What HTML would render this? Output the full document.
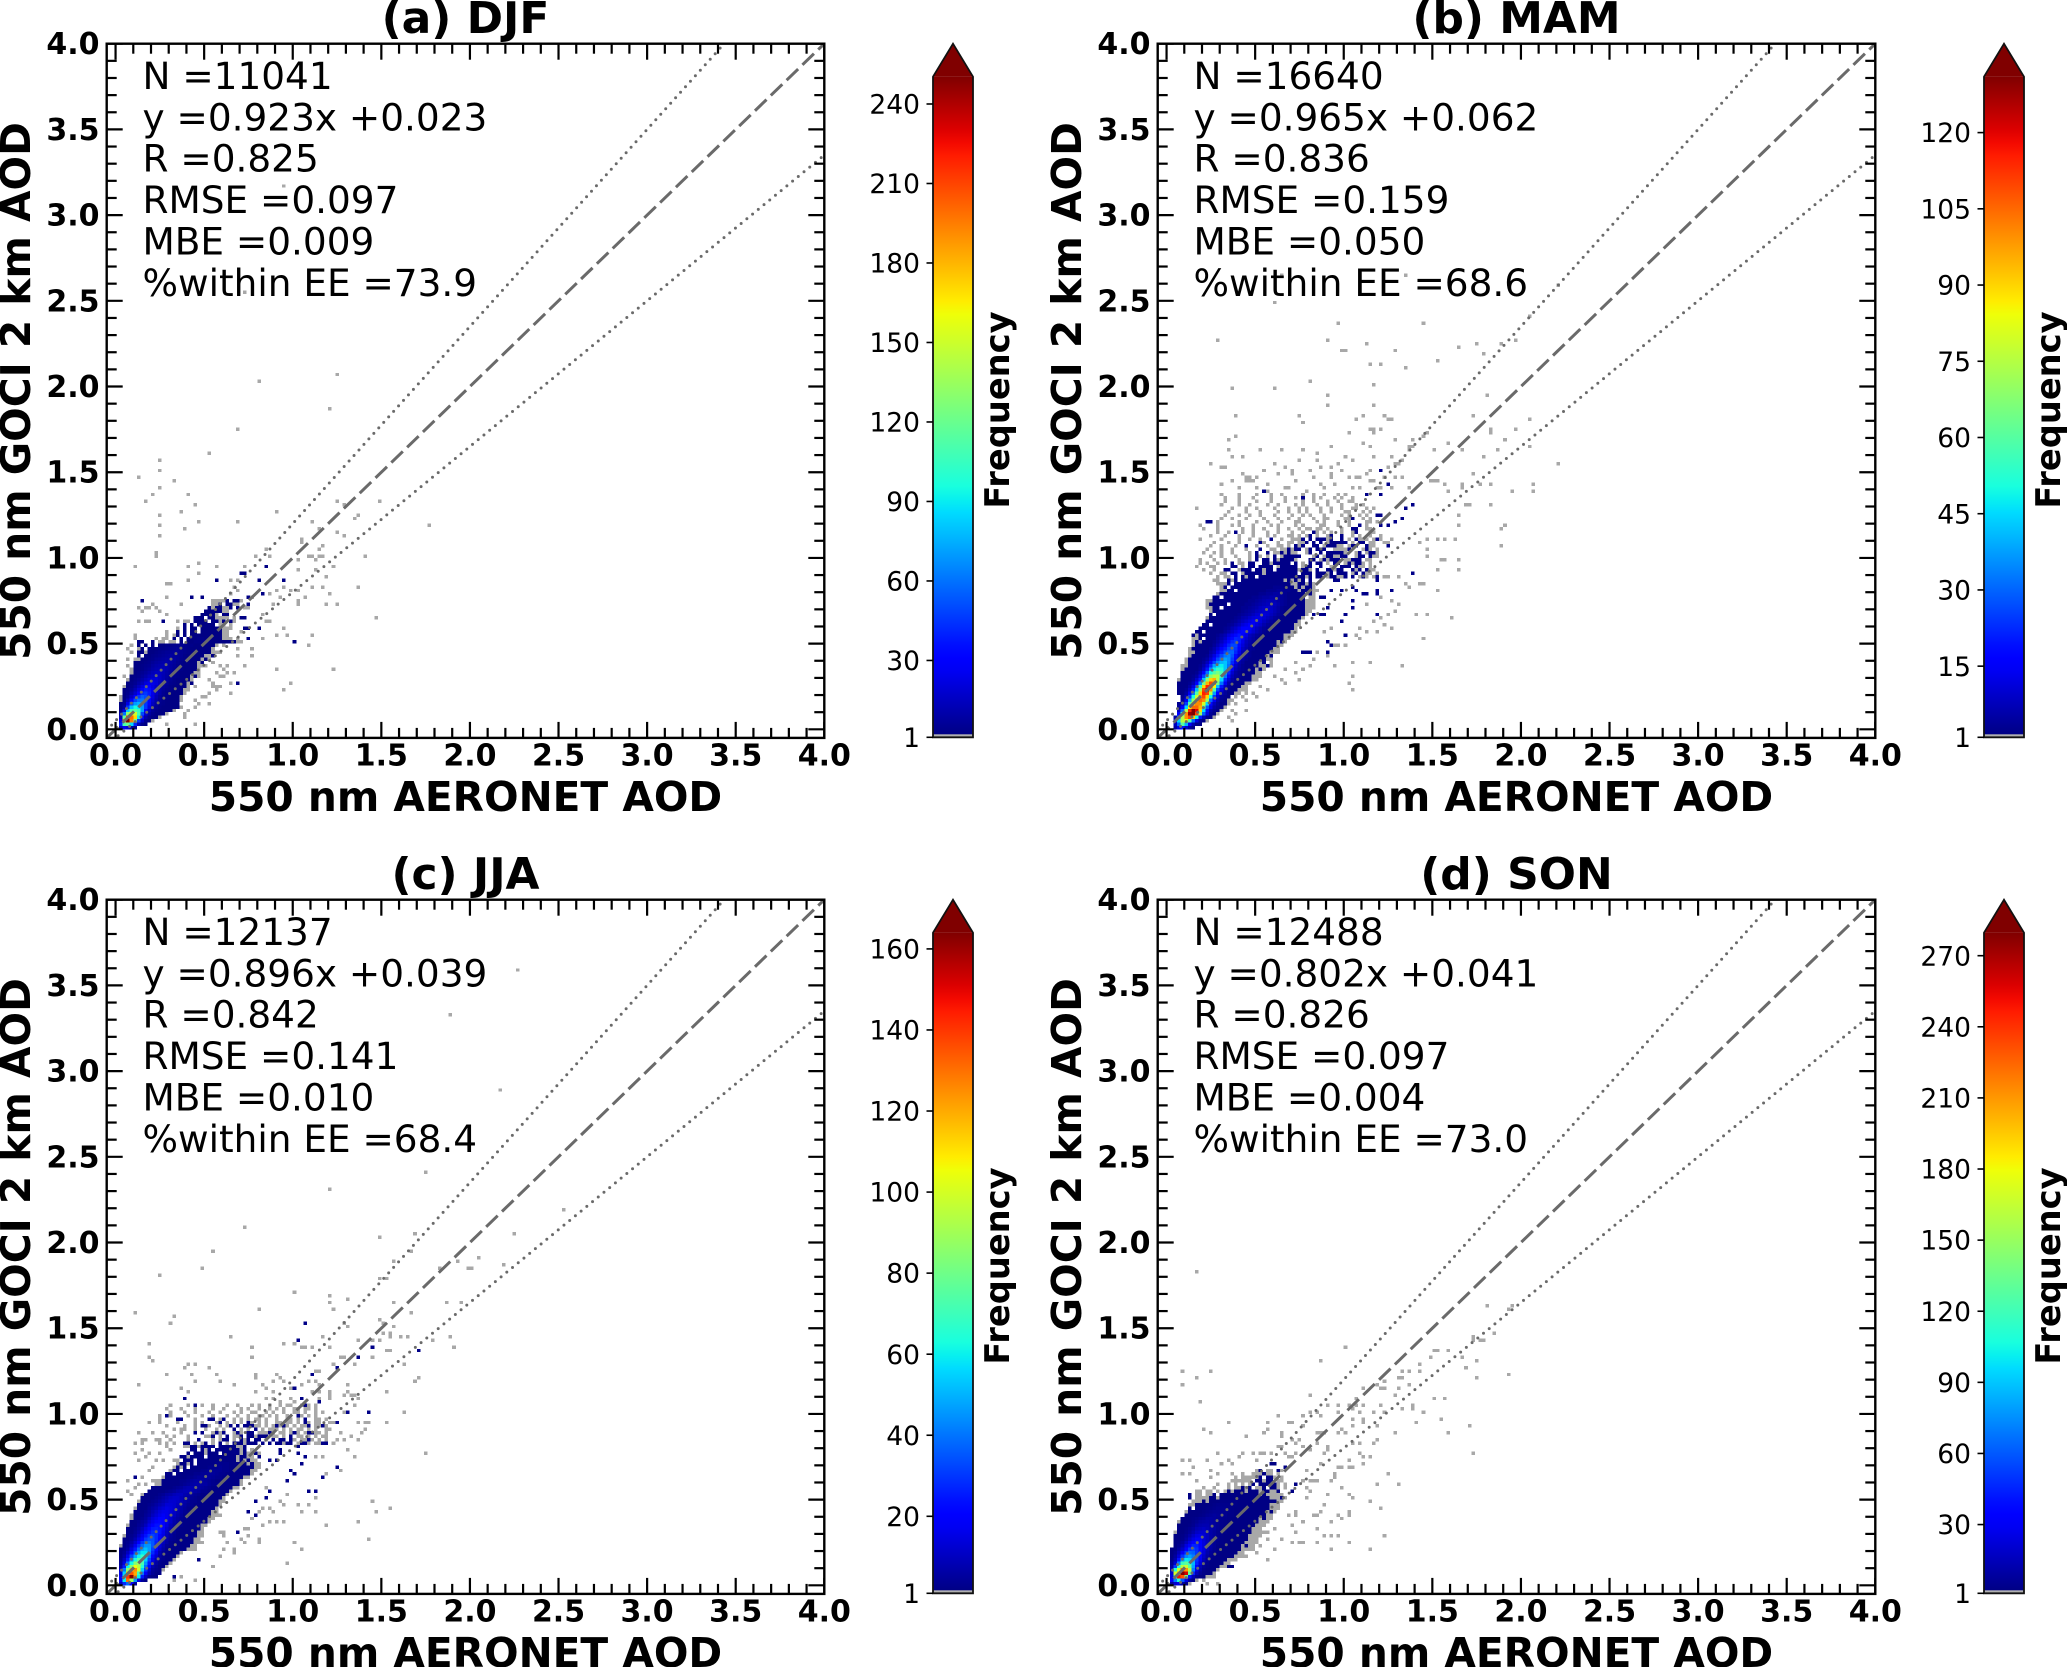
<!DOCTYPE html>
<html lang="en">
<head>
<meta charset="utf-8">
<title>GOCI 2 km AOD versus AERONET AOD by season</title>
<style>
html,body{margin:0;padding:0;background:#fff;}
svg{display:block;}
text{font-family:"DejaVu Sans","Liberation Sans",sans-serif;fill:#000;}
.title{font-size:43.9px;font-weight:700;text-anchor:middle;}
.axis-title{font-size:40.7px;font-weight:700;text-anchor:middle;}
.tick-label{font-size:30px;font-weight:700;}
.stat{font-size:37.4px;}
.cbar-label{font-size:26.5px;text-anchor:end;}
.cbar-title{font-size:33.7px;font-weight:700;text-anchor:middle;}
</style>
</head>
<body>
<svg id="figure" xmlns="http://www.w3.org/2000/svg" width="2067" height="1667" viewBox="0 0 2067 1667">
<rect width="2067" height="1667" fill="#fff"/>
<g id="panel-djf" transform="translate(0,0)">
<g class="marks"></g>
<text class="title" x="465.5" y="33">(a) DJF</text>
<text class="axis-title" x="465.5" y="811">550 nm AERONET AOD</text>
<text class="axis-title" transform="translate(30,391) rotate(-90)">550 nm GOCI 2 km AOD</text>
<text class="stat" x="142.5" y="89">N =11041</text>
<text class="stat" x="142.5" y="130.5">y =0.923x +0.023</text>
<text class="stat" x="142.5" y="171.5">R =0.825</text>
<text class="stat" x="142.5" y="213">RMSE =0.097</text>
<text class="stat" x="142.5" y="254.5">MBE =0.009</text>
<text class="stat" x="142.5" y="296">%within EE =73.9</text>
<text class="cbar-title" transform="translate(1009,410) rotate(-90)">Frequency</text>
</g>
<g id="panel-mam" transform="translate(1051,0)">
<g class="marks"></g>
<text class="title" x="465.5" y="33">(b) MAM</text>
<text class="axis-title" x="465.5" y="811">550 nm AERONET AOD</text>
<text class="axis-title" transform="translate(30,391) rotate(-90)">550 nm GOCI 2 km AOD</text>
<text class="stat" x="142.5" y="89">N =16640</text>
<text class="stat" x="142.5" y="130.5">y =0.965x +0.062</text>
<text class="stat" x="142.5" y="171.5">R =0.836</text>
<text class="stat" x="142.5" y="213">RMSE =0.159</text>
<text class="stat" x="142.5" y="254.5">MBE =0.050</text>
<text class="stat" x="142.5" y="296">%within EE =68.6</text>
<text class="cbar-title" transform="translate(1009,410) rotate(-90)">Frequency</text>
</g>
<g id="panel-jja" transform="translate(0,856)">
<g class="marks"></g>
<text class="title" x="465.5" y="33">(c) JJA</text>
<text class="axis-title" x="465.5" y="811">550 nm AERONET AOD</text>
<text class="axis-title" transform="translate(30,391) rotate(-90)">550 nm GOCI 2 km AOD</text>
<text class="stat" x="142.5" y="89">N =12137</text>
<text class="stat" x="142.5" y="130.5">y =0.896x +0.039</text>
<text class="stat" x="142.5" y="171.5">R =0.842</text>
<text class="stat" x="142.5" y="213">RMSE =0.141</text>
<text class="stat" x="142.5" y="254.5">MBE =0.010</text>
<text class="stat" x="142.5" y="296">%within EE =68.4</text>
<text class="cbar-title" transform="translate(1009,410) rotate(-90)">Frequency</text>
</g>
<g id="panel-son" transform="translate(1051,856)">
<g class="marks"></g>
<text class="title" x="465.5" y="33">(d) SON</text>
<text class="axis-title" x="465.5" y="811">550 nm AERONET AOD</text>
<text class="axis-title" transform="translate(30,391) rotate(-90)">550 nm GOCI 2 km AOD</text>
<text class="stat" x="142.5" y="89">N =12488</text>
<text class="stat" x="142.5" y="130.5">y =0.802x +0.041</text>
<text class="stat" x="142.5" y="171.5">R =0.826</text>
<text class="stat" x="142.5" y="213">RMSE =0.097</text>
<text class="stat" x="142.5" y="254.5">MBE =0.004</text>
<text class="stat" x="142.5" y="296">%within EE =73.0</text>
<text class="cbar-title" transform="translate(1009,410) rotate(-90)">Frequency</text>
</g>
</svg>
<script>
// Histogram bin width in AOD units. Cells are addressed by bin index (column, row).
const binWidth = 0.02;
const pairCount = 2;
const axisMajorTicks = [0, 0.5, 1, 1.5, 2, 2.5, 3, 3.5, 4];
const axisMinorTicks = [0.1,0.2,0.3,0.4,0.6,0.7,0.8,0.9,1.1,1.2,1.3,1.4,1.6,1.7,1.8,1.9,2.1,2.2,2.3,2.4,2.6,2.7,2.8,2.9,3.1,3.2,3.3,3.4,3.6,3.7,3.8,3.9];
const axisTickLabels = ['0.0','0.5','1.0','1.5','2.0','2.5','3.0','3.5','4.0'];
const eeSlopes = [1.15, 0.85];
const eeOffsets = [0.05, -0.05];

// Core density rows: row index = y bin; first value = starting x bin, then the counts.
const djfCore = [
[1,12,25,20,8,3],
[1,40,110,120,85,40,12,4,2],
[1,25,190,250,195,120,45,15,5,2,1],
[1,12,120,210,200,170,90,28,10,4,2,2,1],
[1,8,60,130,165,150,110,50,20,8,4,2,2,2,1],
[1,3,20,80,110,115,105,70,30,12,6,3,2,2,2,2,1],
[1,2,8,45,80,95,90,70,45,22,10,5,3,2,2,2,2,2,1],
[1,2,5,22,50,70,75,65,45,28,15,8,4,3,2,2,2,2],
[1,1,3,12,28,50,60,62,50,32,18,10,5,3,2,2,2,2,1],
[1,1,2,6,16,30,45,55,50,35,22,12,7,4,3,2,2,2,1],
[2,2,4,10,18,32,42,45,38,24,15,9,5,3,2,2,2,2,1],
[2,2,3,6,12,20,30,38,35,25,16,10,6,4,3,2,2,2,1,1],
[3,2,4,8,14,22,30,30,22,16,11,7,5,3,2,2,2,2,1,0,1],
[3,2,3,5,9,14,20,24,24,20,14,10,7,4,3,2,2,2,1,2],
[3,1,2,4,6,10,14,18,20,20,16,12,8,5,3,2,2,2,2,1],
[4,2,3,4,7,10,14,16,18,16,12,9,6,4,3,2,2,2,1,2,1],
[4,1,2,3,5,7,10,13,15,15,13,10,7,5,3,2,2,2,2,1,1],
[4,1,2,2,3,5,7,10,12,13,13,11,8,5,4,3,2,2,2,2,1],
[5,2,2,3,4,5,8,10,11,12,11,8,6,4,3,2,2,2,2,1,1,1],
[5,2,2,2,3,4,6,8,9,10,10,9,7,5,3,2,2,2,2,1,2],
[5,1,1,2,2,3,4,6,7,8,9,9,8,6,4,3,2,2,2,2,1,2,1],
[6,2,0,2,2,3,4,5,6,7,8,7,6,5,3,2,2,2,2,2,1,1,2],
[6,2,2,1,2,2,3,4,5,6,6,7,6,5,4,3,2,2,2,2,2,2,1,1],
[6,1,2,0,2,2,2,3,3,4,5,5,6,5,4,3,2,2,2,2,2,2,1],
[6,2,0,2,0,2,0,2,2,3,3,4,4,5,4,3,3,2,2,2,2,2,2,1],
[6,2,2,0,0,2,0,1,1,0,1,1,0,2,0,2,2,3,3,3,4,3,2,2,2,2,2,2,2,1,1],
[11,1,0,1,1,0,2,0,2,0,2,2,2,3,3,2,2,2,2,2,1,1,1],
[13,0,1,0,1,2,0,2,0,2,2,2,2,2,2,2,2,2,1,1],
[14,1,0,0,2,0,2,0,2,2,0,2,2,2,2,2,2,1],
[17,1,0,2,0,2,2,0,2,2,2,2,2,2,1,1,1],
[19,2,0,2,0,2,2,2,2,2,0,1,1,0,1],
[6,1,0,1,1,0,0,0,2,0,0,0,1,0,1,1,0,2,2,2,2,0,2,2,1,2,0,2,1],
[22,2,2,2,0,2,2,1,1,1],
[24,2,2,2,2,1,0,2,2],
[25,2,2,2,2,2,1,1],
[26,2,1,2,2,1,1,2,0,2],
[27,1,1,2,0,2,2,1,1],
[28,1,1,1,2,0,2,2,1]
];
const djfLone = [[47,158],[36,127],[62,66],[74,66],[22,65],[64,65],[18,63],[45,63],[12,62],[68,62],[67,61],[23,60],[34,60],[55,60],[12,59],[88,59],[19,58],[57,58],[62,57],[12,56],[64,56],[52,55],[52,54],[58,53],[42,52],[57,52],[54,50],[43,50],[39,50],[70,50],[11,50],[11,51],[55,50],[57,50],[58,50],[51,49],[56,49],[23,48],[61,47],[5,47],[20,47],[28,47],[36,47],[51,46],[56,46],[23,45],[59,44],[20,43],[32,43],[34,43],[14,42],[15,42],[33,41],[55,41],[58,41],[47,41],[68,41],[34,40],[45,40],[49,40],[51,40],[32,39],[43,39],[60,39],[14,38],[53,38],[46,38],[38,38],[30,37],[29,37],[27,37],[51,37],[31,36],[18,36],[51,36],[59,36],[62,36],[44,36],[10,36],[6,35],[11,35],[37,35],[36,35],[41,33],[73,32],[42,31],[43,31],[8,35],[9,35],[7,34],[12,34],[14,33],[33,32],[31,32],[6,31],[36,29],[47,29],[48,27],[45,27],[55,27],[35,28],[31,28],[30,28],[41,26],[34,26],[32,26],[54,24],[30,24],[34,23],[38,23],[38,21],[34,21],[29,22],[27,19],[29,18],[36,18],[61,17],[45,17],[33,16],[28,16],[31,16],[30,15],[26,14],[32,13],[49,13],[29,12],[28,12],[47,11],[28,11],[32,10],[24,9],[22,8],[26,7],[19,3],[14,1],[22,1],[40,101],[62,103],[60,93],[34,87],[12,78],[12,75],[6,73],[26,80],[12,70],[20,68],[10,68],[16,72],[8,66],[19,4],[20,5],[22,6],[23,7],[25,9],[26,10],[27,12],[27,13],[29,15],[30,17],[31,18],[4,24],[4,22],[3,20],[3,18],[2,15],[5,26],[5,27],[2,12],[3,23]];
const djfPair = [[34,13],[50,25],[37,26],[36,29],[37,29],[40,29],[32,30],[35,32],[36,32],[33,36],[37,36],[37,38],[21,38],[24,38],[7,37],[41,39],[28,43],[40,43],[47,43],[35,45],[36,45],[42,47]];
const djfVmax = 250.3;
const djfColorTicks = [1,30,60,90,120,150,180,210,240];

const mamCore = [
[2,5,12,20,10,4,2],
[2,8,30,60,40,15,6,2,2],
[2,12,45,75,85,60,30,12,4,2,1],
[2,5,30,75,100,110,90,50,20,8,3,2,1],
[3,15,50,100,128,131,110,70,30,12,4,2,1],
[3,8,30,75,115,131,120,90,45,18,6,3,2,1],
[3,4,15,45,85,105,105,95,60,28,12,5,3,2,1],
[3,3,8,25,60,90,100,100,80,45,18,8,4,2,2,1],
[4,4,14,40,70,95,105,100,70,30,14,6,3,2,1,1],
[4,3,8,24,50,78,100,110,90,50,24,10,4,3,2,0,1,0,1],
[3,2,2,5,14,32,60,90,115,110,75,38,16,7,4,2,2,1,1,0,1],
[3,2,2,3,8,20,42,72,110,125,100,60,26,12,5,3,2,2,1,1,1],
[3,2,2,2,5,12,26,55,90,115,115,85,42,20,8,4,2,2,2,1,1],
[3,2,2,2,3,7,15,35,65,95,110,100,65,32,14,6,3,2,2,2,1,1],
[3,1,2,2,2,4,9,20,42,70,90,95,75,45,22,10,5,3,2,2,2,2,1,1],
[4,2,2,2,3,5,12,26,50,68,75,75,55,32,15,7,4,3,2,2,2,1,1,1],
[4,2,2,2,2,3,7,15,32,50,60,65,58,38,22,10,5,3,2,2,2,2,1,1],
[4,1,2,2,2,2,4,9,20,35,48,55,52,42,28,14,7,4,3,2,2,2,1,2,1],
[4,1,1,2,2,2,3,6,12,24,38,45,48,42,32,18,9,5,3,2,2,2,2,1,1,2,1],
[5,1,2,2,2,2,4,8,15,26,34,40,42,34,22,12,6,4,2,2,2,2,1,2,0,1],
[5,1,2,2,2,2,3,5,10,18,26,32,38,35,25,15,8,5,3,2,2,2,2,2,1,1],
[6,1,2,2,2,2,3,7,12,20,26,32,34,28,18,10,6,4,3,2,2,2,2,1,2],
[6,1,1,2,2,2,2,5,8,14,20,26,30,30,22,13,7,5,3,2,2,2,2,2,1,1,1],
[6,1,2,2,2,2,2,3,6,10,15,20,26,28,24,16,9,6,4,3,2,2,2,2,2,1,1],
[7,1,2,2,2,2,2,4,7,11,16,22,26,26,18,11,7,5,3,2,2,2,2,2,2,1,1],
[7,1,2,1,2,2,2,3,5,8,12,18,22,24,20,13,8,6,4,3,2,2,2,2,2,1,2,1],
[7,1,1,2,0,2,2,2,4,6,9,14,18,22,21,15,10,7,5,3,2,2,2,2,2,2,2,1,1],
[7,2,1,2,2,2,2,2,3,5,7,11,14,18,20,17,12,8,6,4,3,2,2,2,2,2,2,1,1,1],
[8,2,2,0,2,2,2,2,2,4,6,9,12,15,18,18,13,10,7,5,3,2,2,2,2,2,2,2,1,1],
[9,2,2,2,2,2,2,2,3,4,7,9,12,15,17,15,11,8,6,4,3,2,2,2,2,2,2,2,1],
[10,2,2,0,2,2,2,2,3,4,6,8,11,13,15,14,11,9,6,4,3,2,2,2,2,2,2,1,1],
[11,2,2,2,2,2,2,2,3,4,6,8,10,12,14,13,11,8,6,4,3,2,2,2,2,2,2,1],
[11,1,2,2,2,2,2,2,2,3,4,6,7,9,11,12,12,10,8,6,4,3,2,2,2,2,2,2,1],
[12,2,0,2,2,2,2,2,2,3,4,5,6,8,10,11,11,10,8,6,4,3,2,2,2,2,2,2,1],
[12,1,2,2,2,2,2,2,2,2,3,4,5,6,8,9,10,10,9,7,5,3,2,2,2,2,2,2,1,1],
[11,1,1,2,2,0,2,2,2,2,2,3,3,4,5,6,8,9,10,9,7,5,3,2,2,2,2,2,2,1,1,1],
[11,1,2,2,2,2,2,0,2,2,2,2,3,3,4,5,6,7,8,8,8,6,4,3,2,2,2,2,2,1,1,1],
[11,1,1,2,2,2,2,2,2,2,2,2,2,3,3,4,5,6,7,7,7,5,4,3,2,2,2,2,2,1,1,1],
[13,2,2,0,2,2,2,2,2,2,2,2,3,3,4,5,5,6,6,5,4,3,2,2,2,2,2,0,1,1],
[14,1,2,2,2,2,2,2,2,2,2,2,2,3,3,4,4,5,5,4,3,2,2,2,2,2,1,2,1],
[15,1,1,2,2,0,2,2,2,2,2,2,2,2,3,3,3,4,4,3,3,2,2,1,2,2,2,1,1],
[15,1,2,0,2,2,2,2,2,2,2,2,2,2,2,2,3,3,3,2,2,2,1,2,1,2,2,1],
[14,1,1,1,2,0,2,2,2,2,2,2,2,2,2,2,2,2,2,2,2,2,1,1,2,2,1,2,1],
[13,1,1,0,0,2,1,2,0,2,2,2,2,2,2,2,2,2,2,2,2,1,2,1,2,1,2,0,2],
[14,1,0,1,1,0,2,0,2,1,2,2,0,2,2,2,2,2,2,2,2,2,2,2,2,2,1,2,0,2,2,0,1,2,2,1,1,2,0,2,0,1,2,1,0,1,2,0,1,1,0,0,1],
[12,1,0,0,1,1,0,2,2,0,1,2,2,2,2,2,1,2,2,2,2,2,2,2,2,2,0,2,2,2,0,2,2,2,1,2,0,2,2,2,0,1,2,0,2,1,1,0,1],
[10,1,0,0,1,0,0,2,2,0,0,1,2,2,2,0,2,2,1,2,2,0,2,2,2,2,2,2,1,2,2,1,0,2,0,0,2,2,1,2,2,0,0,2,1,2,0,2,1,1],
[8,1,0,0,0,1,1,0,0,0,0,2,2,0,1,0,2,2,0,2,2,2,2,0,1,2,2,2,2,2,0,1,2,2,0,0,2,0,0,1,1,0,2,2,2,0,2,1,1,0,1],
[9,1,0,1,0,0,1,0,1,0,2,0,1,1,0,2,2,0,0,2,2,1,2,2,2,2,2,0,2,0,1,0,2,0,2,2,0,1,0,2,2,0,1,2,1,2,2,1,0,1],
[9,1,0,0,0,1,0,0,1,0,0,0,1,0,0,1,0,2,0,2,2,0,2,1,2,2,2,2,1,0,0,0,2,2,0,1,2,1,2,2,2,0,1,1,2,2,2,0,1,1],
[10,0,0,1,0,0,1,0,0,0,1,0,0,0,1,0,2,1,0,1,0,2,0,1,2,2,2,2,2,0,0,0,1,2,0,1,2,2,1,1,2,2,0,0,1,2,2,0,2,1,1],
[10,1,0,0,1,0,1,0,0,1,0,0,0,0,1,0,2,0,0,2,0,1,1,2,1,2,1,1,0,0,1,2,0,0,2,0,2,2,2,2,2,1,0,0,1,2,0,1,2,2,1],
[11,1,0,0,0,1,0,0,1,0,0,0,1,0,0,0,2,0,0,1,1,0,1,1,2,1,2,2,0,1,2,0,2,2,2,0,0,1,1,1,1,2,0,0,0,1,2,1,0,1],
[12,1,0,0,1,0,0,0,1,0,0,2,0,0,1,0,0,1,0,0,1,1,0,1,0,2,1,2,0,0,2,2,0,1,2,2,2,1,1,0,1,2,2,0,0,2,1,1],
[13,1,0,0,0,1,0,0,1,0,0,0,0,0,2,1,0,0,0,1,0,0,1,1,0,1,1,2,0,2,0,2,0,1,2,2,2,2,2,0,1,0,2,2,0,1,1,0,0,1,1],
[9,1,0,0,0,0,0,1,0,0,0,0,1,0,0,1,0,0,1,0,0,2,0,0,1,0,0,1,1,1,2,0,2,0,2,2,2,1,2,0,0,2,0,1,0,2,1,1,1,0,1,0,1,0,0,1],
[12,1,0,0,0,1,0,0,0,1,0,0,0,1,0,0,0,1,0,1,0,0,0,1,1,0,1,0,1,2,0,1,0,0,1,2,0,0,2,0,0,1,0,1,0,0,1,0,0,1],
[14,1,0,0,1,0,0,0,1,0,0,1,0,0,0,1,0,0,1,0,0,0,1,0,0,1,0,0,2,1,0,1,0,1,0,0,1,0,0,1,2,0,0,0,1,1],
[10,1,0,0,0,1,0,0,0,0,0,0,1,0,0,1,0,0,1,0,0,0,1,0,0,1,0,0,1,0,1,1,0,1,1,0,1,0,0,0,1,0,0,0,2,0,0,1,1],
[9,1,0,0,0,0,1,0,0,0,1,0,1,0,0,0,1,0,0,0,0,1,0,1,0,0,0,0,1,0,1,0,0,0,0,1,1,0,0,0,1,0,0,1,0,0,2,0,1],
[12,2,0,1,0,0,0,0,0,1,0,0,0,0,1,0,0,1,0,0,0,1,0,0,0,1,1,0,0,0,0,1,0,1,0,0,0,1,0,0,1,0,0,0,0,1,1,0,1],
[14,0,1,0,0,1,0,0,0,1,0,0,0,0,1,0,0,0,1,0,0,1,0,0,1,0,0,0,1,0,0,1,1,0,0,0,0,1,1,0,0,0,1,0,1],
[15,0,1,0,0,0,1,0,0,1,0,0,1,0,0,0,1,0,0,0,0,1,0,0,1,0,1,0,0,0,1,0,0,0,0,1,0,1,0,0,1,0,1],
[17,1,0,0,0,0,1,0,0,0,1,0,0,0,0,1,0,0,1,0,0,1,0,1,0,0,0,1,0,0,1,0,0,0,1,1,0,0,0,1,0,1],
[8,1,0,0,0,0,0,0,0,0,0,1,0,0,0,1,0,0,1,0,0,0,0,1,0,0,0,1,0,0,1,0,1,0,0,0,1,0,0,1,0,0,1,0,0,1,1,0,0,1,0,1],
[15,1,0,0,0,0,1,0,0,1,0,0,0,0,1,0,0,1,0,0,0,0,1,0,1,0,0,0,1,0,0,1,0,0,0,1,0,0,0,1,0,1],
[16,1,0,0,0,1,0,0,0,0,1,0,0,0,1,0,0,0,1,0,0,0,0,1,0,0,1,0,0,0,1,0,0,1,0,0,1,1],
[14,0,0,1,0,0,0,1,0,0,0,1,0,0,0,0,1,0,0,0,1,0,0,1,0,0,0,0,1,0,1,0,0,0,1,0,1,0,0,1],
[15,1,0,0,0,0,1,0,0,0,0,1,0,0,0,1,0,0,1,0,0,0,0,0,1,0,0,1,0,0,1,0,0,0,1,0,1]
];
const mamLone = [[50,110],[64,110],[57,106],[60,106],[67,105],[76,107],[89,109],[18,99],[30,99],[40,101],[45,97],[45,94],[58,100],[58,94],[19,91],[37,91],[38,89],[53,90],[55,91],[61,91],[62,90],[63,90],[86,91],[102,90],[90,97],[51,86],[57,87],[58,87],[58,86],[60,87],[19,85],[17,84],[17,81],[18,79],[21,79],[26,81],[32,81],[38,81],[42,80],[42,78],[46,82],[55,83],[57,82],[52,78],[58,79],[63,79],[64,84],[64,77],[65,77],[66,78],[68,82],[69,82],[68,81],[69,84],[73,86],[72,85],[75,81],[79,83],[83,81],[89,79],[91,87],[95,84],[98,87],[102,82],[93,81],[110,77],[91,86],[12,77],[15,76],[16,76],[46,76],[35,75],[35,74],[46,74],[46,73],[51,73],[53,73],[54,73],[56,74],[57,72],[58,72],[22,72],[23,72],[22,73],[23,73],[25,73],[28,71],[43,71],[54,70],[60,70],[63,70],[64,73],[66,73],[68,70],[74,72],[75,72],[76,72],[78,71],[79,69],[83,71],[83,70],[86,74],[88,71],[91,71],[97,69],[103,71],[103,69],[84,65],[85,65],[91,65],[82,62],[82,59],[94,58],[95,59],[94,53],[76,55],[78,55],[81,55],[73,55],[71,54],[73,52],[73,50],[77,49],[78,49],[82,49],[82,46],[76,46],[76,40],[71,42],[72,42],[67,42],[68,41],[70,33],[73,33],[80,32],[72,26],[66,18],[57,19],[52,19],[47,18],[52,15],[51,13],[52,11],[37,14],[32,14],[18,2],[30,124],[48,118],[72,118],[14,113],[45,113],[49,110],[56,112],[64,110],[82,111],[87,112],[94,112],[98,113],[102,120],[110,129],[32,132],[67,132],[60,32],[62,33],[64,34],[58,31],[56,36],[60,38],[63,37],[65,36],[61,30],[59,28],[63,29],[56,28],[54,26],[50,24],[48,24],[44,28],[46,29],[45,21],[41,20],[40,18],[38,17],[36,16],[33,13],[28,11],[25,9],[22,8],[19,7],[22,5],[19,4],[17,3],[18,5],[24,10],[26,12],[30,15],[33,17],[36,19],[39,22],[42,22],[47,24],[53,27],[54,29],[20,70],[24,72],[28,69],[31,74],[34,70],[36,72],[39,69],[41,73],[44,70],[47,71],[49,75],[52,70],[27,75],[30,77],[33,76],[37,78],[40,75],[43,76],[48,77],[50,79],[21,74],[18,72],[15,71],[25,70],[33,70],[57,75],[59,70],[61,73],[62,76]];
const mamPair = [[69,45],[63,40],[59,43],[59,40],[59,39],[55,39],[56,39],[52,37],[49,31],[50,33],[50,27],[45,25],[45,22],[46,24],[38,22],[39,22],[40,22],[41,33],[43,33],[44,33],[45,35],[43,38],[44,38],[41,40],[46,40],[49,40],[53,40],[52,41],[47,43],[48,43],[27,69],[38,67],[56,68],[60,75],[60,68],[62,71],[69,65],[67,64],[66,61],[64,60],[60,62],[59,62],[52,61],[52,58],[53,58],[57,58],[60,59],[62,59],[62,53],[59,55],[11,60],[19,57],[52,35],[59,33]];
const mamVmax = 131;
const mamColorTicks = [1,15,30,45,60,75,90,105,120];

const jjaCore = [
[1,10,28,38,20,5],
[1,18,60,130,90,45,15,5,2],
[1,20,60,140,164,125,60,25,10,3,2,2],
[1,15,55,115,135,120,70,40,18,8,4,2,2],
[1,10,40,85,115,125,100,55,30,12,5,3,2,1],
[1,6,25,60,85,105,95,65,38,20,8,4,2,2,1],
[1,4,15,40,62,85,90,72,45,25,12,6,3,2,2,1],
[1,3,10,25,45,62,75,72,55,32,16,8,4,3,2,2,1],
[1,2,6,16,32,48,60,68,58,40,22,12,6,3,2,2,2,1],
[1,2,4,10,22,34,48,58,58,45,28,16,8,4,3,2,2,2,1],
[1,2,3,6,14,25,38,48,52,46,32,20,11,6,3,2,2,2,2,2,1,1,1],
[1,1,2,4,9,17,28,38,45,45,35,24,14,8,4,3,2,2,2,2,2,1,1],
[2,2,3,6,12,20,30,36,40,35,26,17,10,6,3,2,2,2,2,2,2,1,1,1],
[2,2,2,4,8,14,22,30,34,34,28,20,12,7,4,3,2,2,2,2,2,1,1],
[2,1,2,3,5,10,16,24,30,32,28,22,15,9,5,3,2,2,2,2,2,2,1,1],
[3,2,2,4,7,12,18,24,28,28,24,16,10,6,4,2,2,2,2,2,2,1,1],
[3,2,2,3,5,9,14,20,25,26,24,18,12,8,5,3,2,2,2,2,2,2,1],
[3,1,2,2,4,6,10,16,20,24,24,20,14,9,6,4,3,2,2,2,2,2,1,1],
[4,2,2,3,5,7,12,16,20,22,20,15,11,7,5,3,2,2,2,2,2,2,2,1],
[4,1,2,2,3,5,9,13,16,20,20,16,12,8,6,4,3,2,2,2,2,2,2,1,1],
[4,1,2,2,2,4,6,10,13,16,18,16,13,10,7,5,3,2,2,2,2,2,2,2,1],
[5,2,2,2,3,5,8,11,14,16,16,14,11,8,6,4,3,2,2,2,2,2,2,1,1],
[5,1,2,2,2,4,6,8,11,13,15,14,12,9,7,5,3,2,2,2,2,2,2,2,1],
[6,2,2,2,3,4,6,8,10,13,13,12,10,8,6,4,3,2,2,2,2,2,2,2,1],
[6,1,2,2,2,3,4,6,8,10,12,12,11,9,7,5,3,3,2,2,2,2,2,2,1,1],
[7,2,2,2,2,3,4,6,8,10,11,11,9,7,6,4,3,2,2,2,2,2,2,2,1],
[7,1,2,2,2,2,3,4,6,7,9,10,10,8,7,5,4,3,2,2,2,2,2,2,2,1],
[9,2,2,2,2,2,3,4,5,7,8,9,9,8,6,5,3,3,2,2,2,2,2,2,1],
[10,2,2,2,2,2,2,3,4,5,7,8,8,8,6,5,4,3,2,2,2,2,2,2,1,1],
[11,1,1,2,2,2,2,2,3,4,5,6,7,7,6,6,4,3,3,2,2,2,2,2,2,1],
[10,1,1,1,2,2,2,2,2,3,3,4,5,6,6,6,5,4,3,2,2,2,2,2,2,2,1],
[13,1,2,2,2,2,2,2,3,3,4,5,5,5,5,4,3,3,2,2,2,2,2,2,1,1],
[14,2,2,0,2,2,2,2,2,3,3,4,4,5,5,4,3,3,2,2,2,2,2,2,2,1],
[15,1,2,2,0,2,2,2,2,2,3,3,4,4,4,4,3,3,2,2,2,2,2,2,1,1],
[16,1,2,1,2,0,2,2,2,2,2,3,3,3,4,3,3,2,2,2,2,2,2,2,1,1],
[17,1,2,2,1,2,0,2,2,2,2,2,3,3,3,3,2,2,2,2,2,1,2,1,1],
[16,1,1,0,2,2,2,0,2,2,2,2,2,2,2,2,2,2,2,1,2,1,2,1,1],
[18,2,2,1,2,2,2,2,0,2,2,2,2,2,2,2,2,1,2,2,1,1],
[20,2,0,2,2,2,1,2,2,2,0,2,2,2,2,2,1,2,1,1,2,1],
[21,2,2,0,2,1,2,0,2,2,2,2,2,2,2,1,2,0,1],
[19,1,1,2,2,1,2,2,2,2,0,2,2,2,2,2,1,1,2],
[5,1,0,1,0,0,0,0,1,0,1,0,1,0,0,2,2,0,1,0,1,2,0,1,0,2,0,1,0,2,2,2,1,2,2,2,0,2,0,2,0,2,2,1,2,2,0,1,2,2,1,0,1,1,2,2,0,1],
[8,1,0,0,0,1,0,0,1,0,0,0,0,1,0,0,2,0,0,0,1,0,1,2,2,0,1,0,2,1,2,0,2,2,0,1,0,2,0,2,2,0,2,1,0,1,1,2,1,0,1,0,1],
[14,1,0,1,0,0,0,1,0,0,0,0,1,1,2,0,1,0,2,0,1,1,2,0,2,2,1,2,2,2,0,1,1,0,1,0,2,0,1,1,0,1,0,1,0,1,1],
[13,1,0,0,0,0,1,0,0,0,2,0,2,0,0,1,0,1,2,0,0,1,2,1,0,2,0,0,1,1,1,2,1,0,1,1,0,1,2,1,0,1,2,2,1,1,0,1],
[16,1,0,0,1,0,0,1,0,0,1,0,0,1,0,1,0,0,2,0,1,0,1,0,2,0,1,0,1,1,1,0,1,0,1,0,1,1,0,1,0,1,0,0,1,1],
[14,1,0,0,0,0,1,0,0,1,0,2,0,1,0,0,1,0,1,2,0,2,0,2,2,0,1,1,0,1,0,1,2,1,0,1,0,1,0,1,1,2,0,1,1,0,1],
[9,1,0,0,0,0,0,0,0,1,0,0,0,0,1,0,1,0,0,0,1,2,0,1,0,1,0,1,0,2,1,0,1,0,1,0,0,1,1,0,1,1,0,1,0,2,1,0,1,1,0,0,1,1],
[12,1,0,0,0,0,2,0,0,0,0,1,0,0,0,2,0,0,1,2,0,0,1,0,1,0,1,0,1,1,0,1,0,0,1,0,0,1,1,0,1,0,2,0,0,1,1,0,1],
[12,1,0,0,1,0,0,0,0,1,0,0,0,1,0,0,1,0,0,0,1,0,0,1,0,0,1,0,0,1,1,0,1,0,1,0,0,1,0,0,2,1,0,1,0,1],
[15,1,0,0,0,1,0,0,1,0,0,0,1,0,0,1,0,0,0,1,0,1,0,0,1,1,0,0,1,0,1,0,0,1,0,0,1,1,0,1,0,0,1,0,1],
[13,0,1,0,0,0,1,0,0,0,1,0,0,0,0,1,0,0,1,0,0,0,0,1,0,1,0,0,1,0,0,1,0,1,0,1,0,0,1,0,0,1,1,0,1],
[15,1,0,0,0,0,1,0,0,0,1,0,0,1,0,0,0,1,0,0,1,0,0,0,1,0,1,0,0,1,0,0,1,0,1,1,0,0,1,0,1,0,1]
];
const jjaLone = [[27,97],[24,92],[12,90],[50,85],[40,80],[5,79],[16,78],[15,76],[60,84],[60,82],[61,80],[65,83],[78,94],[74,89],[76,89],[78,82],[83,79],[93,82],[97,82],[96,94],[102,95],[91,92],[99,92],[100,92],[74,77],[75,76],[78,75],[65,75],[64,76],[58,72],[68,71],[75,73],[77,73],[77,72],[80,72],[82,72],[89,71],[94,72],[95,69],[72,71],[74,71],[72,66],[76,68],[77,68],[81,64],[67,64],[64,66],[63,66],[61,64],[60,69],[55,69],[52,69],[53,69],[50,70],[47,70],[38,69],[38,66],[32,72],[9,70],[9,66],[10,65],[19,63],[20,64],[22,64],[26,63],[21,61],[28,61],[14,61],[22,59],[29,59],[33,58],[6,58],[18,57],[20,56],[39,61],[39,60],[39,56],[45,61],[44,59],[41,58],[42,57],[44,56],[46,60],[47,59],[49,57],[46,53],[46,52],[44,54],[42,54],[43,52],[49,54],[50,53],[51,51],[52,58],[55,61],[56,62],[57,62],[54,59],[56,59],[57,58],[57,56],[55,56],[57,54],[60,56],[60,55],[60,54],[65,58],[76,56],[65,56],[64,55],[66,55],[67,55],[68,54],[64,50],[67,52],[84,59],[85,60],[81,50],[76,47],[71,47],[70,47],[68,47],[70,45],[69,44],[66,43],[68,42],[64,42],[65,39],[67,37],[87,38],[62,42],[63,44],[58,37],[56,37],[59,32],[63,33],[56,25],[54,23],[52,21],[51,23],[56,21],[59,17],[68,18],[72,24],[73,21],[77,22],[71,13],[52,10],[50,12],[48,6],[45,18],[47,18],[47,23],[43,22],[41,22],[40,21],[37,16],[36,16],[40,13],[40,12],[36,12],[33,9],[30,10],[29,8],[27,5],[31,12],[30,15],[29,15],[30,14],[27,19],[28,20],[29,20],[22,1],[18,2],[16,1],[5,38],[7,39],[6,36],[8,37],[12,38],[13,36],[15,39],[10,34],[9,33],[7,31],[8,29],[6,29],[5,28],[11,36],[9,38],[14,40],[16,43],[10,44],[11,42],[7,42],[13,44],[18,45],[12,47],[6,44],[33,10],[35,13],[37,14],[38,19],[41,17],[43,18],[44,21],[46,24],[48,26],[42,28],[113,179],[94,166],[108,144],[87,120],[60,115],[126,109],[36,104],[112,102],[74,101],[84,102],[83,97],[109,93],[3,30],[3,27],[4,26]];
const jjaPair = [[53,76],[51,71],[72,69],[68,66],[62,63],[55,61],[85,68],[50,57],[52,54],[53,52],[57,53],[65,50],[71,50],[52,49],[56,48],[58,46],[62,47],[19,54],[22,52],[15,50],[14,49],[18,48],[27,48],[30,48],[35,47],[25,46],[28,44],[38,46],[40,46],[44,46],[47,46],[35,44],[37,43],[38,44],[40,44],[42,42],[45,43],[46,41],[47,42],[51,40],[57,44],[59,44],[51,44],[46,39],[46,38],[43,36],[45,36],[40,37],[51,38],[53,37],[52,35],[62,34],[49,33],[50,32],[58,31],[48,30],[54,27],[56,27],[43,27],[42,25],[39,24],[37,21],[39,20],[34,15],[23,7],[16,2],[5,31]];
const jjaVmax = 164;
const jjaColorTicks = [1,20,40,60,80,100,120,140,160];

const sonCore = [
[1,8,20,25,10,3,1],
[1,30,70,110,60,25,8,3,1,0,1],
[1,25,130,250,230,130,40,15,5,2,2,1,1,1],
[1,20,170,200,280,260,130,45,15,6,3,2,2,1],
[1,12,110,170,220,210,160,70,25,10,4,2,2,2,1],
[1,8,50,110,160,165,130,80,35,14,6,3,2,2,2,1,1],
[1,5,20,70,120,130,115,85,45,22,9,4,2,2,2,2,1,1],
[1,3,12,40,80,100,95,75,50,28,14,6,3,2,2,2,2,1,1,1],
[1,2,8,22,50,72,80,70,52,30,18,9,5,3,2,2,2,2,2,1,1],
[1,2,5,14,30,50,65,62,50,35,22,12,7,4,3,2,2,2,2,2,1,1],
[1,2,3,9,18,35,50,55,48,36,24,14,9,5,3,2,2,2,2,2,2,1,1,1,1],
[2,2,5,11,24,36,45,44,35,24,15,10,6,3,2,2,2,2,2,2,1,2,1,1],
[2,2,3,7,15,25,34,38,32,24,16,10,6,4,3,2,2,2,2,2,2,1,1,1,1],
[2,2,2,4,9,17,25,30,30,22,16,11,7,5,3,2,2,2,2,2,2,2,1,1,1],
[2,2,2,3,6,11,18,24,26,22,16,11,8,5,3,2,2,2,2,2,2,2,1,1,1,1],
[2,1,2,2,4,7,12,18,20,20,16,11,8,5,4,3,2,2,2,2,2,2,2,1,1,1],
[3,2,2,3,5,8,13,15,17,14,11,9,6,4,3,2,2,2,2,2,2,2,1,1,1],
[3,2,2,2,3,5,9,12,13,13,10,8,6,4,3,2,2,2,2,2,2,2,2,1,1,1],
[3,1,2,2,2,4,6,9,10,11,10,8,6,4,3,2,2,2,2,2,2,2,2,2,1,1,1],
[4,2,2,2,3,4,6,7,9,9,8,6,5,4,3,2,2,2,2,2,2,2,2,1,2,1,1],
[5,2,2,2,2,3,4,6,7,8,7,6,5,3,3,2,2,2,2,2,2,2,2,2,1,1],
[5,1,2,2,2,2,3,4,5,6,6,6,5,4,3,2,2,2,2,2,2,2,2,2,1,2,1],
[6,2,0,2,2,2,3,3,4,5,5,5,4,3,2,2,2,2,2,2,2,2,2,2,1,1,1],
[6,1,1,2,2,2,2,2,3,4,4,4,4,3,3,2,2,2,2,2,2,2,2,2,1,1,1],
[7,1,1,1,2,1,2,2,2,3,3,3,3,3,2,2,2,2,2,2,2,2,2,2,2,1,1],
[8,1,1,1,1,2,2,1,2,2,2,2,2,2,2,2,2,2,2,2,2,2,1,1,1,2,1],
[6,2,0,1,1,0,1,1,2,0,2,2,2,2,2,2,2,2,2,2,2,1,2,1,1,1,1,1],
[7,0,1,1,0,1,1,0,1,0,1,2,1,2,2,2,1,2,2,2,1,2,2,1,1],
[10,1,0,0,1,0,0,0,1,0,1,1,2,1,2,0,1,1,2,0,2,2,1,0,1],
[14,1,0,0,1,0,1,0,1,0,1,2,0,2,2,2,2,2,1,0,1],
[18,1,0,1,0,1,1,0,2,2,1,2,2,0,1,1],
[21,1,1,0,1,1,2,0,2,2,1,0,1],
[24,1,1,0,2,1,1,0,1],
[25,1,2,0,1,1,0,2,1]
];
const sonLone = [[50,69],[43,65],[40,55],[4,62],[12,62],[8,60],[4,58],[9,53],[17,47],[10,45],[12,44],[22,43],[31,49],[28,47],[34,47],[35,47],[28,45],[27,44],[32,44],[32,43],[38,49],[38,46],[40,50],[42,50],[43,49],[45,52],[48,52],[48,50],[51,52],[52,51],[53,52],[55,52],[53,54],[52,48],[52,46],[54,50],[55,48],[55,47],[59,46],[60,52],[58,50],[61,50],[64,44],[64,55],[66,51],[55,57],[59,58],[60,57],[61,57],[61,59],[66,62],[68,62],[71,62],[71,64],[65,60],[66,60],[68,58],[65,57],[69,52],[69,51],[72,50],[70,47],[75,54],[78,54],[77,48],[79,44],[85,46],[86,38],[87,60],[87,65],[84,63],[83,66],[79,68],[75,68],[76,68],[74,66],[86,72],[86,71],[88,71],[89,71],[90,81],[92,73],[96,80],[97,81],[96,61],[41,20],[42,20],[43,21],[42,16],[38,18],[36,21],[36,20],[34,20],[35,17],[36,15],[35,12],[37,12],[38,12],[42,12],[44,14],[46,14],[48,14],[51,12],[46,18],[48,20],[49,19],[51,21],[51,20],[46,10],[57,10],[61,14],[60,22],[57,24],[52,25],[51,26],[49,28],[45,26],[44,23],[59,29],[65,29],[62,32],[46,30],[47,32],[47,31],[48,34],[49,34],[51,36],[51,34],[52,34],[54,38],[55,37],[55,35],[57,37],[52,41],[54,41],[58,41],[59,42],[49,45],[50,44],[48,44],[44,38],[41,30],[42,30],[40,30],[39,28],[39,25],[40,27],[43,35],[39,33],[38,30],[45,40],[45,39],[43,44],[44,44],[42,44],[40,39],[42,41],[38,40],[36,41],[35,42],[37,42],[36,38],[35,37],[32,40],[34,37],[29,38],[31,40],[33,38],[27,38],[26,38],[25,36],[24,38],[21,38],[20,37],[18,35],[17,36],[15,35],[14,38],[11,36],[8,30],[12,33],[12,31],[14,32],[18,32],[19,31],[19,30],[21,32],[21,30],[23,31],[26,32],[26,33],[4,32],[6,32],[7,34],[4,36],[6,36],[17,8],[18,8],[19,8],[20,8],[21,8],[22,8],[28,7],[30,10],[25,9],[26,11],[28,15],[28,13],[32,13],[30,16],[26,16],[27,15],[11,0],[14,0],[12,2],[8,91]];
const sonPair = [[30,35],[29,35],[28,33],[31,33],[33,34],[36,29],[35,27],[31,27],[30,26],[29,22],[31,23],[27,19],[28,19],[18,5],[17,5],[6,25]];
const sonVmax = 279.7;
const sonColorTicks = [1,30,60,90,120,150,180,210,240,270];

const SVGNS = 'http://www.w3.org/2000/svg';
const axisLeft = 106.7, axisRight = 824.3, axisTop = 43.7, axisBottom = 737.9;
const axisMin = -0.05, axisMax = 4;
const cbarLeft = 933, cbarRight = 973, cbarTop = 76.7, cbarBase = 737.3, cbarTip = 43.7;

function xScale(v){ return axisLeft + (v - axisMin) / (axisMax - axisMin) * (axisRight - axisLeft); }
function yScale(v){ return axisBottom - (v - axisMin) / (axisMax - axisMin) * (axisBottom - axisTop); }
function ramp(t, pts){
  for (let k = 1; k < pts.length; k++) {
    if (t <= pts[k][0]) {
      const a = pts[k-1], b = pts[k];
      return a[1] + (b[1]-a[1]) * (t-a[0]) / (b[0]-a[0]);
    }
  }
  return pts[pts.length-1][1];
}
function jet(t){
  t = Math.max(0, Math.min(1, t));
  const r = ramp(t, [[0,0],[0.35,0],[0.66,1],[0.89,1],[1,0.5]]);
  const g = ramp(t, [[0,0],[0.125,0],[0.375,1],[0.64,1],[0.91,0],[1,0]]);
  const b = ramp(t, [[0,0.5],[0.11,1],[0.34,1],[0.65,0],[1,0]]);
  return 'rgb(' + Math.round(r*255) + ',' + Math.round(g*255) + ',' + Math.round(b*255) + ')';
}
function make(tag, attrs, parent){
  const el = document.createElementNS(SVGNS, tag);
  for (const k in attrs) el.setAttribute(k, attrs[k]);
  parent.appendChild(el);
  return el;
}
function drawCell(parent, col, row, count, vmax){
  const x0 = xScale(col * binWidth), x1 = xScale((col + 1) * binWidth);
  const y1 = yScale(row * binWidth), y0 = yScale((row + 1) * binWidth);
  const fill = count <= 1 ? '#a8a8a8' : jet((count - 1) / (vmax - 1));
  const el = make('rect', {x: x0.toFixed(2), y: y0.toFixed(2), width: (x1-x0).toFixed(2), height: (y1-y0).toFixed(2), fill: fill}, parent);
  
  
}
function drawTick(parent, x1, y1, x2, y2){
  const el = make('line', {x1: x1, y1: y1, x2: x2, y2: y2, stroke: '#000', 'stroke-width': 2.2}, parent);
  
  
}
function drawPanel(id, core, lone, pair, vmax, colorTicks){
  const root = document.querySelector('#panel-' + id + ' .marks');
  const clipId = 'clip-' + id;
  const defs = make('defs', {}, root);
  const clip = make('clipPath', {id: clipId}, defs);
  make('rect', {x: axisLeft, y: axisTop, width: axisRight-axisLeft, height: axisBottom-axisTop}, clip);

  const heat = make('g', {'clip-path': 'url(#' + clipId + ')', 'shape-rendering': 'crispEdges'}, root);
  
  
  lone.forEach(function(c){ drawCell(heat, c[0], c[1], 1, vmax); });
  pair.forEach(function(c){ drawCell(heat, c[0], c[1], pairCount, vmax); });
  core.forEach(function(rowData, row){
    for (let n = 1; n < rowData.length; n++) {
      if (rowData[n] > 0) drawCell(heat, rowData[0] + n - 1, row, rowData[n], vmax);
    }
  });

  const one = make('line', {x1: xScale(axisMin), y1: yScale(axisMin), x2: xScale(axisMax), y2: yScale(axisMax), stroke: '#6a6a6a', 'stroke-width': 3, 'stroke-dasharray': '16 6', 'clip-path': 'url(#' + clipId + ')'}, root);
  
  
  eeSlopes.forEach(function(slope, k){
    const ee = make('line', {x1: xScale(axisMin), y1: yScale(slope*axisMin + eeOffsets[k]), x2: xScale(axisMax), y2: yScale(slope*axisMax + eeOffsets[k]), stroke: '#6a6a6a', 'stroke-width': 3, 'stroke-linecap': 'round', 'stroke-dasharray': '0 7.4', 'clip-path': 'url(#' + clipId + ')'}, root);
    
    
  });

  axisMajorTicks.forEach(function(v, k){
    const x = xScale(v), y = yScale(v);
    drawTick(root, x, axisBottom, x, axisBottom-16);
    drawTick(root, x, axisTop, x, axisTop+16);
    drawTick(root, axisLeft, y, axisLeft+16, y);
    drawTick(root, axisRight, y, axisRight-16, y);
    const xl = make('text', {x: x, y: 765.7, class: 'tick-label', 'text-anchor': 'middle'}, root);
    
    
    xl.textContent = axisTickLabels[k];
    const yl = make('text', {x: 99.5, y: y + 10.5, class: 'tick-label', 'text-anchor': 'end'}, root);
    
    
    yl.textContent = axisTickLabels[k];
  });
  axisMinorTicks.forEach(function(v){
    const x = xScale(v), y = yScale(v);
    drawTick(root, x, axisBottom, x, axisBottom-10);
    drawTick(root, x, axisTop, x, axisTop+10);
    drawTick(root, axisLeft, y, axisLeft+10, y);
    drawTick(root, axisRight, y, axisRight-10, y);
  });
  const frame = make('rect', {x: axisLeft, y: axisTop, width: axisRight-axisLeft, height: axisBottom-axisTop, fill: 'none', stroke: '#000', 'stroke-width': 2.4}, root);
  
  

  const gradId = 'jet-' + id;
  const grad = make('linearGradient', {id: gradId, x1: 0, y1: 1, x2: 0, y2: 0}, defs);
  for (let s = 0; s <= 50; s++) {
    make('stop', {offset: s/50, 'stop-color': jet(s/50)}, grad);
  }
  const bar = make('rect', {x: cbarLeft, y: cbarTop, width: cbarRight-cbarLeft, height: cbarBase-cbarTop, fill: 'url(#' + gradId + ')'}, root);
  
  
  const tip = make('polygon', {points: cbarLeft+','+cbarTop+' '+(cbarLeft+cbarRight)/2+','+cbarTip+' '+cbarRight+','+cbarTop, fill: '#800000'}, root);
  
  
  const under = make('rect', {x: cbarLeft, y: cbarBase-3, width: cbarRight-cbarLeft, height: 2.4, fill: '#b0b0b0'}, root);
  
  
  const outline = make('polygon', {points: cbarLeft+','+cbarBase+' '+cbarLeft+','+cbarTop+' '+(cbarLeft+cbarRight)/2+','+cbarTip+' '+cbarRight+','+cbarTop+' '+cbarRight+','+cbarBase, fill: 'none', stroke: '#111', 'stroke-width': 1.8}, root);
  
  
  colorTicks.forEach(function(v){
    const y = cbarBase - (v - 1) / (vmax - 1) * (cbarBase - cbarTop);
    const t = make('line', {x1: cbarLeft-6.5, y1: y, x2: cbarLeft, y2: y, stroke: '#000', 'stroke-width': 1.6}, root);
    
    
    const lab = make('text', {x: cbarLeft-13, y: y + 9.6, class: 'cbar-label'}, root);
    
    
    lab.textContent = String(v);
  });
}
drawPanel('djf', djfCore, djfLone, djfPair, djfVmax, djfColorTicks);
drawPanel('mam', mamCore, mamLone, mamPair, mamVmax, mamColorTicks);
drawPanel('jja', jjaCore, jjaLone, jjaPair, jjaVmax, jjaColorTicks);
drawPanel('son', sonCore, sonLone, sonPair, sonVmax, sonColorTicks);
</script>
</body>
</html>
